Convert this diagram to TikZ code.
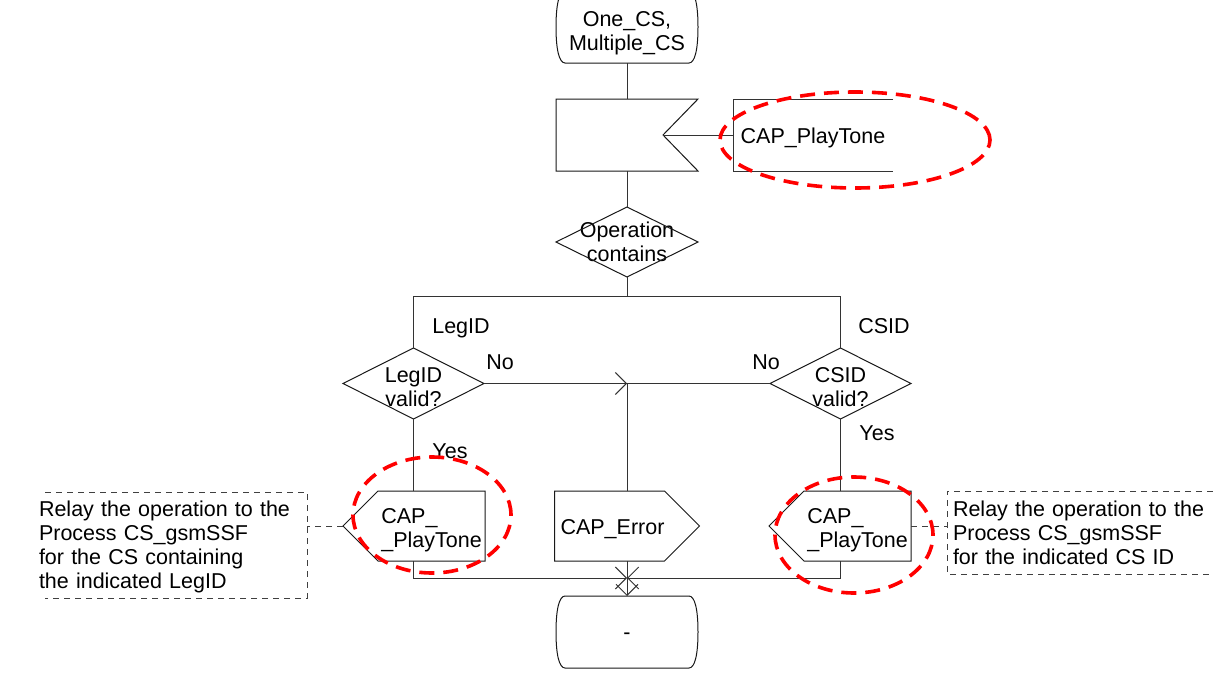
\documentclass[tikz,border=0pt]{standalone}
\usepackage{fontspec}
\setmainfont{Liberation Sans}
\usetikzlibrary{arrows.meta,calc}
\newcommand\sdlstate[1]{%
  \draw[shp] ($(#1.north west)+(9,0)$) -- ($(#1.north east)+(-9,0)$)
    .. controls ($(#1.north east)+(-3,0)$) and ($(#1.north east)+(0,14)$) .. (#1.east)
    .. controls ($(#1.south east)+(0,-14)$) and ($(#1.south east)+(-3,0)$) .. ($(#1.south east)+(-9,0)$)
    -- ($(#1.south west)+(9,0)$)
    .. controls ($(#1.south west)+(3,0)$) and ($(#1.south west)+(0,-14)$) .. (#1.west)
    .. controls ($(#1.north west)+(0,14)$) and ($(#1.north west)+(3,0)$) .. cycle;}
\newcommand\toppad[1]{\rule{0pt}{#1}}
\begin{document}
\begin{tikzpicture}[x=1pt,y=-1pt,
  every node/.style={font=\fontsize{21.5pt}{24pt}\selectfont, inner sep=0pt, outer sep=0pt},
  box/.style={draw=none, align=center},
  shp/.style={draw=black!90, line width=1pt},
  cn/.style={draw=black!80, line width=1pt},
  com/.style={draw=black!75, line width=0.9pt, dash pattern=on 6pt off 5pt},
  redmark/.style={draw=red, line width=3.6pt, dash pattern=on 15pt off 9pt},
  >={Straight Barb[length=11pt,width=22pt]}]
\fill[white] (0,0) rectangle (1213,680);
\useasboundingbox (0,0) rectangle (1213,680);

% nodes
\node[box, minimum width=142pt, minimum height=72pt] (start) at (627,27) {};
\node[box] (startT) at (627,33.5) {One\_CS,\\Multiple\_CS};
\node[box, minimum width=142pt, minimum height=72pt] (inp) at (627,135) {};
\node[box, minimum width=160pt, minimum height=72pt, anchor=west] (tcom) at (733,135) {\toppad{21.4pt}CAP\_PlayTone};
\node[box, minimum width=142pt, minimum height=70pt] (dec) at (627,242) {Operation\\contains};
\node[box, minimum width=141pt, minimum height=71pt] (ldec) at (413.5,383.5) {\toppad{21.4pt}LegID\\valid?};
\node[box, minimum width=141pt, minimum height=71pt] (rdec) at (840.5,383.5) {\toppad{21.4pt}CSID\\valid?};
\node (lLeg) at (461,328.5) {LegID};
\node (lCS) at (884,326) {CSID};
\node (lNo) at (500,362) {No};
\node (rNo) at (766,362) {No};
\node (lYes) at (450,451) {Yes};
\node (rYes) at (877,433) {Yes};
\node[box, align=left, minimum width=107pt, minimum height=70pt] (lout) at (431.5,526) {\toppad{22.5pt}CAP\_\\\_PlayTone};
\node[box, align=left, minimum width=107pt, minimum height=70pt] (rout) at (857.5,526) {\toppad{22.5pt}CAP\_\\\_PlayTone};
\node[box, minimum width=107pt, minimum height=70pt] (err) at (609.5,526) {\toppad{20.7pt}\hspace*{6pt}CAP\_Error};
\node[box, minimum width=142pt, minimum height=72pt] (stop) at (627,632) {\toppad{14pt}-};
\node[box, align=left, text width=268pt, minimum height=106pt] (lcom) at (173,545)
  {\toppad{20.4pt}Relay the operation to the\\Process CS\_gsmSSF\\for the CS containing\\the indicated LegID};
\node[box, align=left, text width=254pt, inner xsep=6pt, minimum height=83pt] (rcom) at (1080,532.5)
  {Relay the operation to the\\Process CS\_gsmSSF\\for the indicated CS ID};

% coordinates
\coordinate (split) at (627,296);
\coordinate (j1) at (627,383.5);
\coordinate (j2) at (627,578);
\coordinate (innotch) at ($(inp.east)+(-35,0)$);
\coordinate (lptr) at ($(lout.west)+(-35,0)$);
\coordinate (eptr) at ($(err.east)+(35,0)$);

% shapes
\sdlstate{start}
\sdlstate{stop}
\draw[shp] (inp.north west) -- (inp.north east) -- (innotch) -- (inp.south east) -- (inp.south west) -- cycle;
\draw[shp] (dec.north) -- (dec.east) -- (dec.south) -- (dec.west) -- cycle;
\draw[shp] (ldec.north) -- (ldec.east) -- (ldec.south) -- (ldec.west) -- cycle;
\draw[shp] (rdec.north) -- (rdec.east) -- (rdec.south) -- (rdec.west) -- cycle;
\draw[shp] (lptr) -- (lout.north west) -- (lout.north east) -- (lout.south east) -- (lout.south west) -- cycle;
\draw[shp] ($(rout.west)+(-35,0)$) -- (rout.north west) -- (rout.north east) -- (rout.south east) -- (rout.south west) -- cycle;
\draw[shp] (err.north west) -- (err.north east) -- (eptr) -- (err.south east) -- (err.south west) -- cycle;
\draw[cn] (tcom.north east) -- (tcom.north west) -- (tcom.south west) -- (tcom.south east);
\draw[com] ($(lcom.north west)+(6,0)$) -- (lcom.north east) -- (lcom.south east) -- ($(lcom.south west)+(6,0)$);
\draw[com] (rcom.north east) -- (rcom.north west) -- (rcom.south west) -- (rcom.south east);

% connectors
\draw[cn] (start.south) -- (inp.north);
\draw[cn] (inp.south) -- (dec.north);
\draw[cn] (dec.south) -- (split);
\draw[cn] (ldec.north) -- (ldec.north |- split) -- (rdec.north |- split) -- (rdec.north);
\draw[cn] (innotch) -- (tcom.west);
\draw[cn,->] (ldec.east) -- (j1);
\draw[cn] (rdec.west) -- (j1);
\draw[cn] (j1) -- (j1 |- err.north);
\draw[cn] (ldec.south) -- (ldec.south |- lout.north);
\draw[cn] (rdec.south) -- (rdec.south |- rout.north);
\draw[cn,->] (ldec.south |- lout.south) |- (j2);
\draw[cn,->] (rdec.south |- rout.south) |- (j2);
\draw[cn] (j2 |- err.south) -- (j2);
\draw[cn,->] (j2) -- (stop.north);
\draw[com] (lptr) -- (lptr -| lcom.east);
\draw[com] (rout.east) -- (rout.east -| rcom.west);

% red highlight marks
\draw[redmark] (855,140) ellipse [x radius=135pt, y radius=48pt];
\draw[redmark] (432,515) ellipse [x radius=79pt, y radius=58pt];
\draw[redmark] (854,535) ellipse [x radius=79pt, y radius=58pt];
\end{tikzpicture}
\end{document}
